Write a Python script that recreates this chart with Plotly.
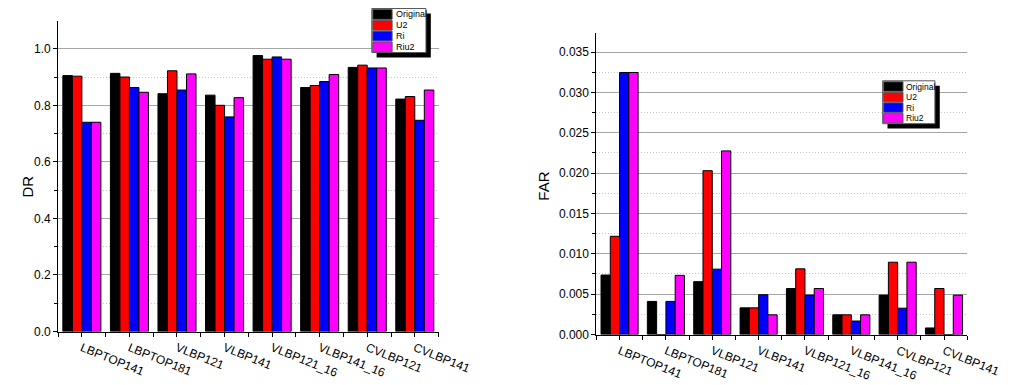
import plotly.graph_objects as go

categories = ["LBPTOP141", "LBPTOP181", "VLBP121", "VLBP141",
              "VLBP121_16", "VLBP141_16", "CVLBP121", "CVLBP141"]
series_names = ["Original", "U2", "Ri", "Riu2"]
series_colors = ["#000000", "#ff0000", "#0000ff", "#ff00ff"]

dr_original = [0.905, 0.913, 0.841, 0.836, 0.976, 0.863, 0.934, 0.822]
dr_u2 = [0.903, 0.900, 0.922, 0.800, 0.963, 0.870, 0.942, 0.831]
dr_ri = [0.740, 0.863, 0.854, 0.759, 0.971, 0.884, 0.932, 0.747]
dr_riu2 = [0.740, 0.846, 0.911, 0.827, 0.963, 0.909, 0.932, 0.854]

far_original = [0.00737, 0.0041, 0.00655, 0.0033, 0.0057, 0.00244, 0.00488, 0.00081]
far_u2 = [0.01217, 0.0, 0.0203, 0.0033, 0.00814, 0.00244, 0.00896, 0.0057]
far_ri = [0.03247, 0.0041, 0.0081, 0.00493, 0.00488, 0.00167, 0.00326, 0.0]
far_riu2 = [0.03247, 0.00733, 0.02275, 0.00244, 0.0057, 0.00244, 0.00896, 0.00488]

dr_series = [dr_original, dr_u2, dr_ri, dr_riu2]
far_series = [far_original, far_u2, far_ri, far_riu2]

W, H = 1036, 385
FONT = "Liberation Sans, Arial, sans-serif"
xpos = list(range(len(categories)))

fig = go.Figure()
for name, color, vals in zip(series_names, series_colors, dr_series):
    fig.add_trace(go.Bar(x=xpos, y=vals, name=name, marker_color=color,
                         marker_line=dict(color="black", width=1),
                         xaxis="x", yaxis="y", showlegend=False))
for name, color, vals in zip(series_names, series_colors, far_series):
    fig.add_trace(go.Bar(x=xpos, y=vals, name=name, marker_color=color,
                         marker_line=dict(color="black", width=1),
                         xaxis="x2", yaxis="y2", showlegend=False))


def px_x(x):
    return x / W


def px_y(y):
    return 1 - y / H


xaxis_common = dict(
    tickmode="array", tickvals=xpos, ticktext=categories, tickangle=22,
    range=[-0.5, len(categories) - 0.5], showline=True, linecolor="black", linewidth=1,
    ticks="outside", ticklen=4, tickcolor="black", showgrid=False, zeroline=False,
    minor=dict(tick0=-0.5, dtick=1, ticks="outside", ticklen=4, tickcolor="black", showgrid=False),
    tickfont=dict(size=12, color="black", family=FONT),
)

yaxis_common = dict(
    showline=True, linecolor="black", linewidth=1, ticks="outside", ticklen=4,
    tickcolor="black", zeroline=False, showgrid=True, gridcolor="#a6a6a6", gridwidth=1,
    tickfont=dict(size=12, color="black", family=FONT),
)

fig.update_layout(
    width=W, height=H, autosize=False,
    margin=dict(l=0, r=0, t=0, b=0, pad=0),
    paper_bgcolor="white", plot_bgcolor="white",
    barmode="group", bargap=0.2, bargroupgap=0,
    font=dict(family=FONT, color="black"),
    xaxis=dict(domain=[px_x(60), px_x(453)], anchor="y", **xaxis_common),
    yaxis=dict(domain=[px_y(337.7), px_y(21.7)], anchor="x", range=[0, 1.097],
               tick0=0, dtick=0.2, tickformat=".1f",
               minor=dict(tick0=0, dtick=0.1, ticks="outside", ticklen=3, tickcolor="black",
                          showgrid=True, gridcolor="#c4c4c4", griddash="1px,2px", gridwidth=1),
               **yaxis_common),
    xaxis2=dict(domain=[px_x(616), px_x(999)], anchor="y2", **xaxis_common),
    yaxis2=dict(domain=[px_y(340.7), px_y(33.3)], anchor="x2", range=[0, 0.0374],
                tick0=0, dtick=0.005, tickformat=".3f",
                minor=dict(tick0=0, dtick=0.0025, ticks="outside", ticklen=3, tickcolor="black",
                           showgrid=True, gridcolor="#c4c4c4", griddash="1px,2px", gridwidth=1),
                **yaxis_common),
)

# axis titles
fig.add_annotation(text="DR", x=px_x(18), y=px_y(190), xref="paper", yref="paper",
                   textangle=-90, showarrow=False, font=dict(size=15, color="black", family=FONT))
fig.add_annotation(text="FAR", x=px_x(561), y=px_y(190), xref="paper", yref="paper",
                   textangle=-90, showarrow=False, font=dict(size=15, color="black", family=FONT))


def add_legend(x0, y0, x1, y1, row_h, sw_w, text_size):
    # shadow
    fig.add_shape(type="rect", xref="paper", yref="paper", layer="above",
                  x0=px_x(x0 + 5), x1=px_x(x1 + 5), y0=px_y(y1 + 5), y1=px_y(y0 + 5),
                  fillcolor="black", line=dict(width=0))
    # box
    fig.add_shape(type="rect", xref="paper", yref="paper", layer="above",
                  x0=px_x(x0), x1=px_x(x1), y0=px_y(y1), y1=px_y(y0),
                  fillcolor="white", line=dict(color="#555555", width=1))
    for i, (name, color) in enumerate(zip(series_names, series_colors)):
        ry0 = y0 + 1 + i * row_h
        ry1 = ry0 + row_h - 1
        fig.add_shape(type="rect", xref="paper", yref="paper", layer="above",
                      x0=px_x(x0 + 1), x1=px_x(x0 + 1 + sw_w), y0=px_y(ry1), y1=px_y(ry0),
                      fillcolor=color, line=dict(color="#555555", width=1))
        fig.add_annotation(text=name, x=px_x(x0 + sw_w + 2.5), y=px_y((ry0 + ry1) / 2),
                           xref="paper", yref="paper", xanchor="left", yanchor="middle",
                           showarrow=False, font=dict(size=text_size, color="black", family=FONT))


add_legend(384, 8.7, 440, 53.5, 11, 20, 9)
add_legend(911.7, 82.3, 965.7, 126, 10.7, 20, 8.5)

fig.write_html("out.html")
